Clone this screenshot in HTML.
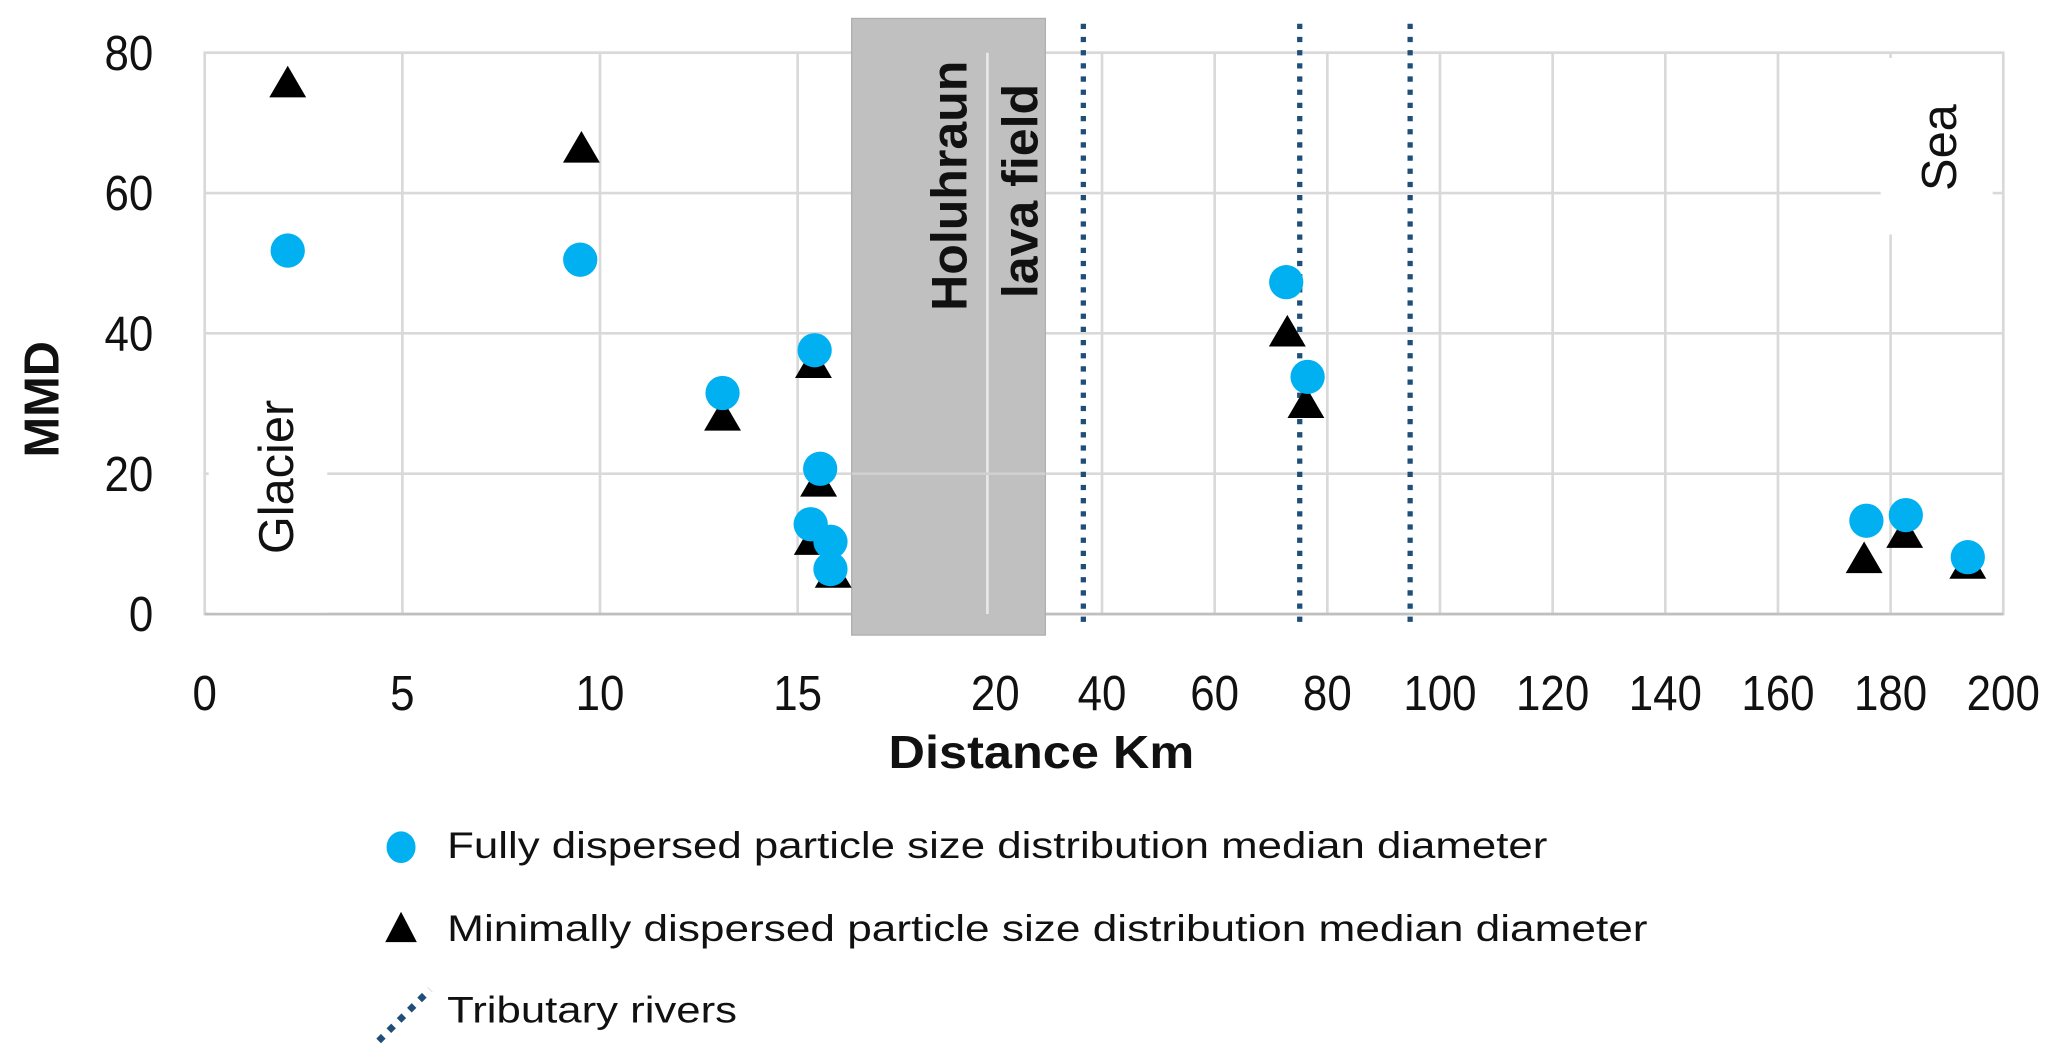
<!DOCTYPE html>
<html><head><meta charset="utf-8"><style>
html,body{margin:0;padding:0;background:#fff;}
svg{display:block;}
text{font-family:"Liberation Sans",sans-serif;}
</style></head><body>
<svg id="chart" width="2067" height="1062" viewBox="0 0 1568 806" xmlns="http://www.w3.org/2000/svg">
<g id="grid"></g>
<g id="zones"></g>
<g id="marks"></g>
<g id="labels"></g>
<g id="legend">
  <ellipse cx="304" cy="643" rx="11" ry="12" fill="#00b0f0"/>
  <text x="339" y="651" font-size="28" fill="#111" textLength="835" lengthAdjust="spacingAndGlyphs">Fully dispersed particle size distribution median diameter</text>
  <path d="M304,692 L316,715 L292,715 Z" fill="#000"/>
  <text x="339" y="714" font-size="28" fill="#111" textLength="911" lengthAdjust="spacingAndGlyphs">Minimally dispersed particle size distribution median diameter</text>
  <line x1="287" y1="790" x2="326" y2="751" stroke="#1f4e79" stroke-width="5" stroke-dasharray="5,6"/>
  <text x="339" y="776" font-size="28" fill="#111" textLength="220" lengthAdjust="spacingAndGlyphs">Tributary rivers</text>
</g>
</svg>
<script>
const yTicks = [0, 20, 40, 60, 80];
const xTicks = [0, 5, 10, 15, 20, 40, 60, 80, 100, 120, 140, 160, 180, 200];
const fullyX = [2.1, 9.5, 13.1, 15.43, 15.57, 15.33, 15.83, 15.83, 72.7, 76.5, 175.7, 182.7, 193.7];
const fullyY = [51.8, 50.5, 31.5, 37.6, 20.7, 12.8, 10.3, 6.4, 47.3, 33.8, 13.3, 14.1, 8.1];
const minX = [2.1, 9.53, 13.1, 15.4, 15.53, 15.37, 15.9, 72.9, 76.2, 175.3, 182.5, 193.7];
const minY = [75.7, 66.4, 28.2, 35.7, 18.8, 10.5, 5.8, 40.2, 30.0, 7.9, 11.5, 7.1];
const tributaries = [36.5, 75.1, 94.7];

const NS = "http://www.w3.org/2000/svg";
const pLeft = 155, pRight = 1520, pTop = 40, pBottom = 466;
function xs(k) {
  if (k <= 20) return pLeft + k * 30;
  if (k <= 40) return 755 + (k - 20) * 4.05;
  return 836 + (k - 40) * (pRight - 836) / 160;
}
function ys(v) { return pBottom - v * (pBottom - pTop) / 80; }
function mk(tag, attrs, parent) {
  const e = document.createElementNS(NS, tag);
  for (const k in attrs) e.setAttribute(k, attrs[k]);
  parent.appendChild(e);
  return e;
}
const grid = document.getElementById('grid');
const zones = document.getElementById('zones');
const marks = document.getElementById('marks');
const labels = document.getElementById('labels');

mk('rect', {x: pLeft, y: pTop, width: pRight - pLeft, height: pBottom - pTop, fill: '#fff', stroke: '#d9d9d9', 'stroke-width': 2}, grid);
yTicks.forEach(v => {
  const l = mk('line', {x1: pLeft, x2: pRight, y1: ys(v), y2: ys(v), stroke: '#d9d9d9', 'stroke-width': 2}, grid);
  
  
  const t = mk('text', {x: 116, y: ys(v) + 13, 'font-size': 37, 'text-anchor': 'end', fill: '#111', transform: `translate(${116*0.1},0) scale(0.9,1)`}, labels);
  t.textContent = v;
  
  
});
xTicks.forEach(k => {
  const l = mk('line', {x1: xs(k), x2: xs(k), y1: pTop, y2: pBottom, stroke: '#d9d9d9', 'stroke-width': 2}, grid);
  
  
  const t = mk('text', {x: xs(k) / 0.9, y: 539, 'font-size': 37, 'text-anchor': 'middle', fill: '#111', transform: 'scale(0.9,1)'}, labels);
  t.textContent = k;
  
  
});
mk('line', {x1: pLeft, x2: pRight, y1: pBottom, y2: pBottom, stroke: '#bfbfbf', 'stroke-width': 2}, grid);

const glacier = mk('rect', {x: 158, y: 255, width: 90, height: 210, fill: '#fff'}, zones);


const gt = mk('text', {transform: 'translate(222,362) rotate(-90)', 'font-size': 37, 'text-anchor': 'middle', fill: '#111'}, zones);
gt.textContent = 'Glacier';


const sea = mk('rect', {x: 1427, y: 44, width: 85, height: 134, fill: '#fff'}, zones);


const st = mk('text', {transform: 'translate(1484,112) rotate(-90)', 'font-size': 37, 'text-anchor': 'middle', fill: '#111'}, zones);
st.textContent = 'Sea';


const lava = mk('rect', {x: 646, y: 14, width: 147, height: 468, fill: '#c0c0c0', stroke: '#b0b0b0', 'stroke-width': 1}, zones);


mk('line', {x1: 749, x2: 749, y1: 40, y2: 466, stroke: '#e8e8e8', 'stroke-width': 2}, zones);
mk('line', {x1: 646, x2: 793, y1: ys(20), y2: ys(20), stroke: '#d0d0d0', 'stroke-width': 2}, zones);
const h1 = mk('text', {transform: 'translate(733,141) rotate(-90)', 'font-size': 38, 'font-weight': 'bold', 'text-anchor': 'middle', fill: '#111'}, zones);
h1.textContent = 'Holuhraun';


const h2 = mk('text', {transform: 'translate(787,145) rotate(-90)', 'font-size': 38, 'font-weight': 'bold', 'text-anchor': 'middle', fill: '#111'}, zones);
h2.textContent = 'lava field';



tributaries.forEach(k => {
  const l = mk('line', {x1: xs(k), x2: xs(k), y1: 18, y2: 478, stroke: '#1f4e79', 'stroke-width': 4, 'stroke-dasharray': '4,6'}, marks);
  
  
});
minX.forEach((k, i) => {
  const cx = xs(k), cy = ys(minY[i]);
  const p = mk('path', {d: `M${cx},${cy - 13} L${cx + 14},${cy + 11} L${cx - 14},${cy + 11} Z`, fill: '#000'}, marks);
  
  
});
fullyX.forEach((k, i) => {
  const c = mk('ellipse', {cx: xs(k), cy: ys(fullyY[i]), rx: 13, ry: 13, fill: '#00b0f0'}, marks);
  
  
});

const xt = mk('text', {x: 790, y: 583, 'font-size': 35, 'font-weight': 'bold', 'text-anchor': 'middle', fill: '#111', textLength: 232, lengthAdjust: 'spacingAndGlyphs'}, labels);
xt.textContent = 'Distance Km';


const yt = mk('text', {transform: 'translate(44,303) rotate(-90)', 'font-size': 37, 'font-weight': 'bold', 'text-anchor': 'middle', fill: '#111'}, labels);
yt.textContent = 'MMD';


</script>
</body></html>
